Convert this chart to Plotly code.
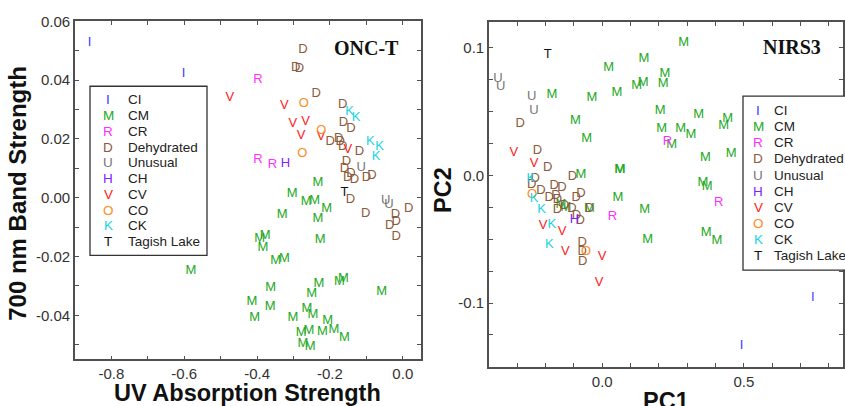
import plotly.graph_objects as go

W, H = 845, 406

# ---------------- groups ----------------
group_names = ["CI", "CM", "CR", "Dehydrated", "Unusual", "CH", "CV", "CO", "CK", "Tagish Lake"]
group_letters = ["I", "M", "R", "D", "U", "H", "V", "O", "K", "T"]
group_colors = ["#3a3aff", "#22a822", "#ff30ff", "#8c5a3c", "#777777",
                "#7f22ff", "#ff2020", "#ff8a22", "#18d4e4", "#111111"]

# ---------------- ONC-T panel (x: UV absorption, y: 700 nm band) ----------------
onc_CI_x = [-0.860, -0.602]
onc_CI_y = [0.0528, 0.0422]
onc_CM_x = [-0.233, -0.304, -0.265, -0.242, -0.209, -0.331, -0.233, -0.227, -0.393, -0.378,
            -0.384, -0.349, -0.325, -0.582, -0.363, -0.230, -0.250, -0.174, -0.163, -0.058,
            -0.414, -0.364, -0.407, -0.302, -0.263, -0.247, -0.206, -0.189, -0.221, -0.160,
            -0.279, -0.258, -0.274, -0.254]
onc_CM_y = [0.0050, 0.0013, -0.0013, -0.0011, -0.0036, -0.0057, -0.0072, -0.0142, -0.0141, -0.0131,
            -0.0169, -0.0215, -0.0209, -0.0250, -0.0306, -0.0292, -0.0328, -0.0287, -0.0276, -0.0319,
            -0.0353, -0.0372, -0.0408, -0.0408, -0.0378, -0.0398, -0.0420, -0.0450, -0.0456, -0.0476,
            -0.0461, -0.0452, -0.0497, -0.0506]
onc_CR_x = [-0.398, -0.398, -0.358]
onc_CR_y = [0.0400, 0.0128, 0.0113]
onc_D_x = [-0.274, -0.294, -0.284, -0.238, -0.165, -0.163, -0.142, -0.199, -0.176, -0.172,
           -0.165, -0.119, -0.155, -0.160, -0.142, -0.151, -0.133, -0.100, -0.085, -0.144,
           -0.102, -0.020, 0.016, -0.036, -0.018, -0.018]
onc_D_y = [0.0502, 0.0441, 0.0439, 0.0353, 0.0317, 0.0255, 0.0235, 0.0189, 0.0200, 0.0191,
           0.0172, 0.0158, 0.0122, 0.0098, 0.0083, 0.0069, 0.0061, 0.0067, 0.0074, -0.0006,
           -0.0055, -0.0058, -0.0037, -0.0095, -0.0083, -0.0133]
onc_U_x = [-0.114, -0.047, -0.038]
onc_U_y = [0.0103, -0.0012, -0.0025]
onc_H_x = [-0.322]
onc_H_y = [0.0117]
onc_V_x = [-0.475, -0.325, -0.302, -0.267, -0.279, -0.224, -0.151]
onc_V_y = [0.0339, 0.0314, 0.0253, 0.0258, 0.0211, 0.0208, 0.0164]
onc_O_x = [-0.272, -0.224, -0.276]
onc_O_y = [0.0320, 0.0228, 0.0150]
onc_K_x = [-0.146, -0.128, -0.089, -0.064, -0.073]
onc_K_y = [0.0294, 0.0272, 0.0191, 0.0172, 0.0141]
onc_T_x = [-0.160]
onc_T_y = [0.0017]

# ---------------- NIRS3 panel (PC1, PC2) ----------------
nirs_CI_x = [0.743, 0.492]
nirs_CI_y = [-0.0956, -0.1338]
nirs_CM_x = [-0.178, -0.037, -0.095, -0.055, 0.023, 0.147, 0.287, 0.052, 0.121, 0.144,
             0.221, 0.215, 0.204, 0.340, 0.210, 0.277, 0.313, 0.245, 0.429, 0.443,
             0.364, 0.455, 0.355, 0.370, 0.367, 0.405, 0.061, 0.063, 0.055, 0.150,
             0.160, -0.075, -0.045, -0.146, -0.128]
nirs_CM_y = [0.0629, 0.0606, 0.0428, 0.0288, 0.0841, 0.0912, 0.1037, 0.0650, 0.0701, 0.0726,
             0.0795, 0.0719, 0.0505, 0.0476, 0.0362, 0.0362, 0.0319, 0.0242, 0.0390, 0.0441,
             0.0135, 0.0166, -0.0059, -0.0089, -0.0446, -0.0510, 0.0046, 0.0046, -0.0174, -0.0268,
             -0.0505, 0.0005, -0.0260, -0.0229, -0.0255]
nirs_CR_x = [0.230, 0.411, 0.036]
nirs_CR_y = [0.0260, -0.0214, -0.0326]
nirs_D_x = [-0.290, -0.229, -0.193, -0.105, -0.237, -0.249, -0.217, -0.170, -0.142, -0.187,
            -0.164, -0.158, -0.092, -0.075, -0.158, -0.134, -0.107, -0.045, -0.078, -0.091,
            -0.071, -0.071, -0.069]
nirs_D_y = [0.0403, 0.0191, 0.0056, -0.0013, -0.0025, -0.0076, -0.0122, -0.0082, -0.0094, -0.0174,
            -0.0158, -0.0191, -0.0178, -0.0148, -0.0268, -0.0235, -0.0260, -0.0260, -0.0357, -0.0320,
            -0.0530, -0.0599, -0.0673]
nirs_U_x = [-0.368, -0.359, -0.249, -0.241]
nirs_U_y = [0.0752, 0.0693, 0.0612, 0.0502]
nirs_H_x = [-0.098]
nirs_H_y = [-0.0348]
nirs_V_x = [-0.312, -0.241, -0.209, -0.142, -0.130, -0.001, -0.011]
nirs_V_y = [0.0178, 0.0089, -0.0395, -0.0443, -0.0599, -0.0638, -0.0845]
nirs_O_x = [-0.248, -0.057]
nirs_O_y = [-0.0149, -0.0599]
nirs_K_x = [-0.252, -0.241, -0.214, -0.178, -0.187]
nirs_K_y = [-0.0025, -0.0187, -0.0271, -0.0390, -0.0540]
nirs_T_x = [-0.193]
nirs_T_y = [0.0943]

onc_data = [(onc_CI_x, onc_CI_y), (onc_CM_x, onc_CM_y), (onc_CR_x, onc_CR_y), (onc_D_x, onc_D_y),
            (onc_U_x, onc_U_y), (onc_H_x, onc_H_y), (onc_V_x, onc_V_y), (onc_O_x, onc_O_y),
            (onc_K_x, onc_K_y), (onc_T_x, onc_T_y)]
nirs_data = [(nirs_CI_x, nirs_CI_y), (nirs_CM_x, nirs_CM_y), (nirs_CR_x, nirs_CR_y), (nirs_D_x, nirs_D_y),
             (nirs_U_x, nirs_U_y), (nirs_H_x, nirs_H_y), (nirs_V_x, nirs_V_y), (nirs_O_x, nirs_O_y),
             (nirs_K_x, nirs_K_y), (nirs_T_x, nirs_T_y)]

# tick labels
onc_xticks = [-0.8, -0.6, -0.4, -0.2, 0.0]
onc_xtext = ["-0.8", "-0.6", "-0.4", "-0.2", "0.0"]
onc_yticks = [0.06, 0.04, 0.02, 0.0, -0.02, -0.04]
onc_ytext = ["0.06", "0.04", "0.02", "0.00", "-0.02", "-0.04"]
nirs_xticks = [0.0, 0.5]
nirs_xtext = ["0.0", "0.5"]
nirs_yticks = [0.1, 0.0, -0.1]
nirs_ytext = ["0.1", "0.0", "-0.1"]

fig = go.Figure()
MARK_FONT = 13
FONT = "Arial, Liberation Sans, sans-serif"
for i, (xs, ys) in enumerate(onc_data):
    fig.add_trace(go.Scatter(x=xs, y=ys, mode="text", text=[group_letters[i]] * len(xs),
                             textfont=dict(family=FONT, size=MARK_FONT, color=group_colors[i]),
                             xaxis="x", yaxis="y", showlegend=False, hoverinfo="skip"))
for i, (xs, ys) in enumerate(nirs_data):
    fig.add_trace(go.Scatter(x=xs, y=ys, mode="text", text=[group_letters[i]] * len(xs),
                             textfont=dict(family=FONT, size=MARK_FONT, color=group_colors[i]),
                             xaxis="x2", yaxis="y2", showlegend=False, hoverinfo="skip"))


def px(x):
    return x / W


def py(y):
    return 1 - y / H


AXC = "#505050"
TICKFONT = dict(family=FONT, size=15, color="#333333")
common = dict(showline=True, linecolor=AXC, linewidth=1.6, mirror="allticks", ticks="inside",
              ticklen=4, tickwidth=1, tickcolor=AXC, showgrid=False, zeroline=False,
              tickfont=TICKFONT, tickmode="array")

fig.update_layout(
    width=W, height=H, autosize=False,
    margin=dict(l=0, r=0, t=0, b=0),
    paper_bgcolor="white", plot_bgcolor="white",
    xaxis=dict(domain=[px(75), px(421)], range=[-0.9, 0.05], anchor="y",
               tickvals=onc_xticks, ticktext=onc_xtext,
               minor=dict(tickmode="linear", tick0=0, dtick=0.1, ticks="inside", ticklen=4,
                          tickcolor=AXC), **common),
    yaxis=dict(domain=[py(358.3), py(12.7)], range=[-0.055, 0.06], anchor="x",
               tickvals=onc_yticks, ticktext=onc_ytext,
               minor=dict(tickmode="linear", tick0=0, dtick=0.01, ticks="inside", ticklen=4,
                          tickcolor=AXC), **common),
    xaxis2=dict(domain=[px(489), px(843)], range=[-0.4, 0.85], anchor="y2",
                tickvals=nirs_xticks, ticktext=nirs_xtext,
                minor=dict(tickmode="linear", tick0=0, dtick=0.1, ticks="inside", ticklen=4,
                           tickcolor=AXC), **common),
    yaxis2=dict(domain=[py(366), py(13.3)], range=[-0.15, 0.12], anchor="x2",
                tickvals=nirs_yticks, ticktext=nirs_ytext,
                minor=dict(tickmode="linear", tick0=0, dtick=0.025, ticks="inside", ticklen=4,
                           tickcolor=AXC), **common),
)

ann = []
ann.append(dict(text="<b>700 nm Band Strength</b>", x=px(18), y=py(189), xref="paper", yref="paper",
                textangle=-90, showarrow=False, font=dict(family=FONT, size=24, color="#111"),
                xanchor="center", yanchor="middle"))
ann.append(dict(text="<b>UV Absorption Strength</b>", x=px(248), y=py(393), xref="paper", yref="paper",
                showarrow=False, font=dict(family=FONT, size=23.5, color="#111"),
                xanchor="center", yanchor="middle"))
ann.append(dict(text="<b>PC2</b>", x=px(443), y=py(185), xref="paper", yref="paper",
                textangle=-90, showarrow=False, font=dict(family=FONT, size=23.5, color="#111"),
                xanchor="center", yanchor="middle"))
ann.append(dict(text="<b>PC1</b>", x=px(666), y=py(401), xref="paper", yref="paper",
                showarrow=False, font=dict(family=FONT, size=23.5, color="#111"),
                xanchor="center", yanchor="middle"))
ann.append(dict(text="<b>ONC-T</b>", x=px(366), y=py(40), xref="paper", yref="paper",
                showarrow=False, font=dict(family="Liberation Serif, Times New Roman, serif", size=20, color="#111"),
                xanchor="center", yanchor="middle"))
ann.append(dict(text="<b>NIRS3</b>", x=px(792), y=py(39), xref="paper", yref="paper",
                showarrow=False, font=dict(family="Liberation Serif, Times New Roman, serif", size=20, color="#111"),
                xanchor="center", yanchor="middle"))

LEGFONT = 13.5
# left legend
for i, name in enumerate(group_names):
    yy = 93 + i * 16.1
    ann.append(dict(text=group_letters[i], x=px(108), y=py(yy), xref="paper", yref="paper",
                    showarrow=False, font=dict(family=FONT, size=LEGFONT, color=group_colors[i]),
                    xanchor="center", yanchor="middle"))
    ann.append(dict(text=name, x=px(126), y=py(yy), xref="paper", yref="paper",
                    showarrow=False, font=dict(family=FONT, size=LEGFONT, color="#222"),
                    xanchor="left", yanchor="middle"))
# right legend
for i, name in enumerate(group_names):
    yy = 104 + i * 16.45
    ann.append(dict(text=group_letters[i], x=px(758), y=py(yy), xref="paper", yref="paper",
                    showarrow=False, font=dict(family=FONT, size=LEGFONT, color=group_colors[i]),
                    xanchor="center", yanchor="middle"))
    ann.append(dict(text=name, x=px(772), y=py(yy), xref="paper", yref="paper",
                    showarrow=False, font=dict(family=FONT, size=LEGFONT, color="#222"),
                    xanchor="left", yanchor="middle"))

shapes = [
    dict(type="rect", xref="paper", yref="paper", x0=px(90), x1=px(207), y0=py(252), y1=py(79),
         line=dict(color="#333", width=1.3), fillcolor="white", layer="above"),
    dict(type="rect", xref="paper", yref="paper", x0=px(743), x1=px(860), y0=py(267), y1=py(89),
         line=dict(color="#333", width=1.3), fillcolor="white", layer="above"),
]
fig.update_layout(annotations=ann, shapes=shapes)

fig.write_html("out.html", config={"displayModeBar": False},
               post_script="document.body.style.margin='0';document.body.style.overflow='hidden';")
